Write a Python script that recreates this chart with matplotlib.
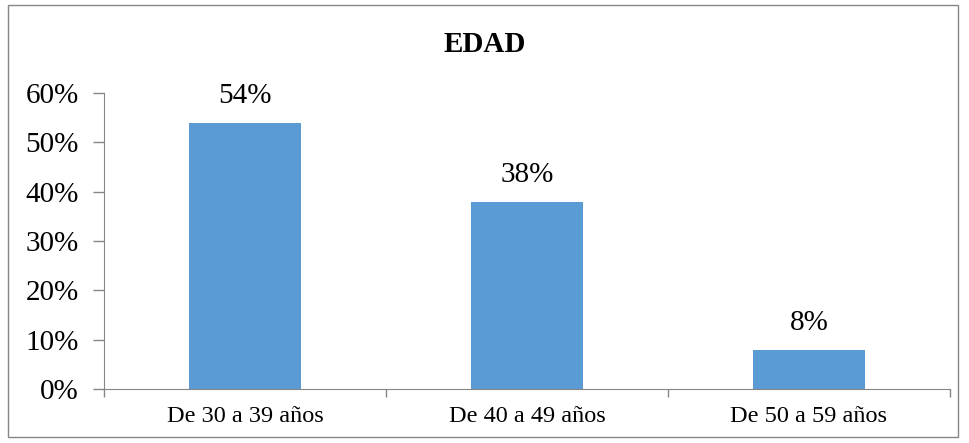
import matplotlib.pyplot as plt
from matplotlib.patches import Rectangle
from matplotlib.ticker import FuncFormatter

categories = ["De 30 a 39 años", "De 40 a 49 años", "De 50 a 59 años"]
values = [0.54, 0.38, 0.08]
labels = ["54%", "38%", "8%"]

plt.rcParams["font.family"] = ["Liberation Serif", "DejaVu Serif"]

W, H = 970, 443
fig = plt.figure(figsize=(W / 100, H / 100), dpi=100)
ax = fig.add_axes([104 / W, 1 - 389 / H, (950 - 104) / W, (389 - 93) / H])

grey = "#868686"
x = range(len(categories))
ax.bar(x, values, width=0.4, color="#5B9BD5", zorder=2)
for xi, v, lab in zip(x, values, labels):
    ax.text(xi, v + 0.027, lab, ha="center", va="bottom", fontsize=21)

ax.set_xlim(-0.5, 2.5)
ax.set_ylim(0, 0.6)
ax.set_yticks([0, 0.1, 0.2, 0.3, 0.4, 0.5, 0.6])
ax.yaxis.set_major_formatter(FuncFormatter(lambda v, p: f"{v * 100:.0f}%"))
ax.tick_params(axis="y", labelsize=21, length=8, width=1, color=grey, pad=10)

# category boundaries get the tick marks, names sit in between
ax.set_xticks([-0.5, 0.5, 1.5, 2.5])
ax.set_xticklabels([])
ax.set_xticks(list(x), minor=True)
ax.set_xticklabels(categories, minor=True, fontsize=17.5)
ax.tick_params(axis="x", which="major", length=6, width=1, color=grey)
ax.tick_params(axis="x", which="minor", length=0, pad=12)

for s in ["top", "right"]:
    ax.spines[s].set_visible(False)
for s in ["left", "bottom"]:
    ax.spines[s].set_color(grey)

fig.text(0.5, 1 - 45 / H, "EDAD", ha="center", va="center",
         fontsize=21, fontweight="bold")

fig.patches.append(Rectangle((8 / W, 1 - 437 / H), (958 - 8) / W, (437 - 5) / H,
                             transform=fig.transFigure, fill=False,
                             edgecolor=grey, linewidth=1))

fig.savefig("out.png", dpi=100)
